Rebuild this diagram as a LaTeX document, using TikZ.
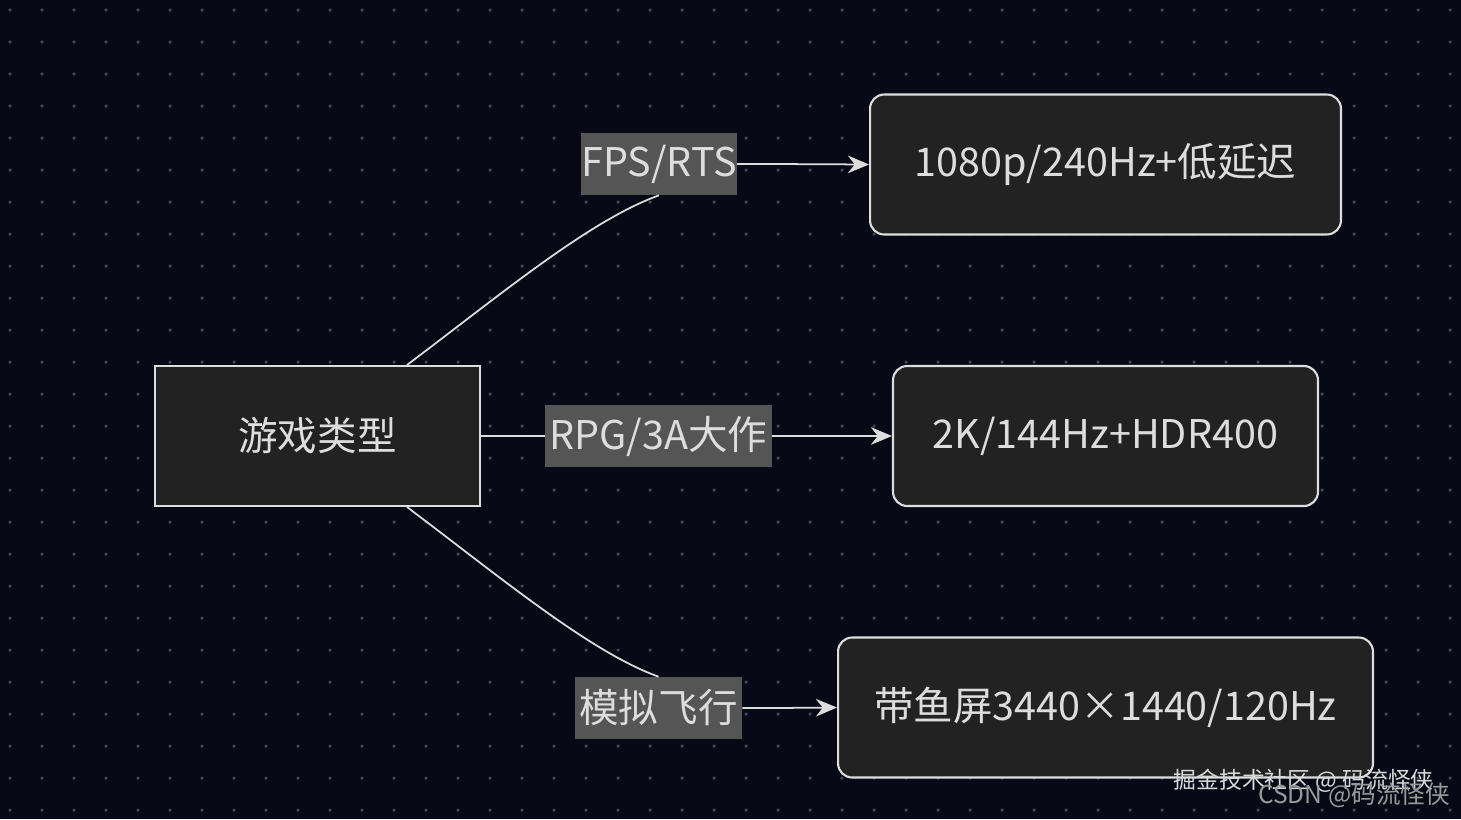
\documentclass[tikz,border=0pt]{standalone}
\usepackage{fontspec}
\setmainfont{Noto Sans CJK SC}
\usetikzlibrary{positioning}
\usetikzlibrary{arrows.meta}
\definecolor{bgdark}{HTML}{070A16}
\definecolor{boxfill}{HTML}{222222}
\definecolor{edgegray}{HTML}{DDDDDD}
\definecolor{labelfill}{HTML}{555555}

\begin{document}
\begin{tikzpicture}[x=0.02cm, y=-0.02cm,
    box/.style={rectangle, draw=edgegray, line width=1.2pt, rounded corners=8pt, fill=boxfill, text=edgegray, font=\fontsize{22.5}{26}\selectfont, minimum height=2.8cm, inner sep=0pt},
    label/.style={rectangle, fill=labelfill, text=edgegray, font=\fontsize{22.5}{26}\selectfont, minimum height=1.24cm, inner sep=0pt},
    link/.style={draw=edgegray, line width=1pt}
]

% Background
\fill[bgdark] (0,0) rectangle (1461,819);
\foreach \i in {0,...,45} \foreach \j in {0,...,25}
  \fill[white!25!bgdark] (32*\i+10,32*\j+10) circle (1pt);

% Nodes
\node[box, rounded corners=0pt, minimum width=6.5cm] (game) at (317.5,436) {游戏类型};
\node[box, minimum width=9.42cm] (fps) at (1105.5,164.5) {1080p/240Hz+低延迟};
\node[box, minimum width=8.5cm] (rpg) at (1105.5,436) {2K/144Hz+HDR400};
\node[box, minimum width=10.7cm] (sim) at (1105.5,707.5) {带鱼屏3440×1440/120Hz};

% Edge labels
\node[label, minimum width=3.08cm] (lfps) at (659,164) {FPS/RTS};
\node[label, minimum width=4.54cm] (lrpg) at (658.5,436) {RPG/3A大作};
\node[label, minimum width=3.34cm] (lsim) at (658.5,708) {模拟飞行};

% Edges
\draw[link] (407,365) .. controls (500,295) and (590,220) .. (lfps.south);
\draw[link, -{Stealth[length=12pt,width=10pt]}] (lfps.east) .. controls (770,164) and (780,164) .. (fps.west);
\draw[link] (game.east) -- (lrpg.west);
\draw[link, -{Stealth[length=12pt,width=10pt]}] (lrpg.east) -- (rpg.west);
\draw[link] (407,507) .. controls (500,577) and (590,652) .. (lsim.north);
\draw[link, -{Stealth[length=12pt,width=10pt]}] (lsim.east) .. controls (770,708) and (780,708) .. (sim.west);

% Watermarks
\node[text=white!85!black, font=\fontsize{13}{15}\selectfont, anchor=east] (wm1) at (1440,781) {掘金技术社区 @ 码流怪侠};
\node[text=white!60!black, font=\fontsize{14}{16}\selectfont, anchor=east] (wm2) at (1456,795) {CSDN @码流怪侠};

\end{tikzpicture}
\end{document}
